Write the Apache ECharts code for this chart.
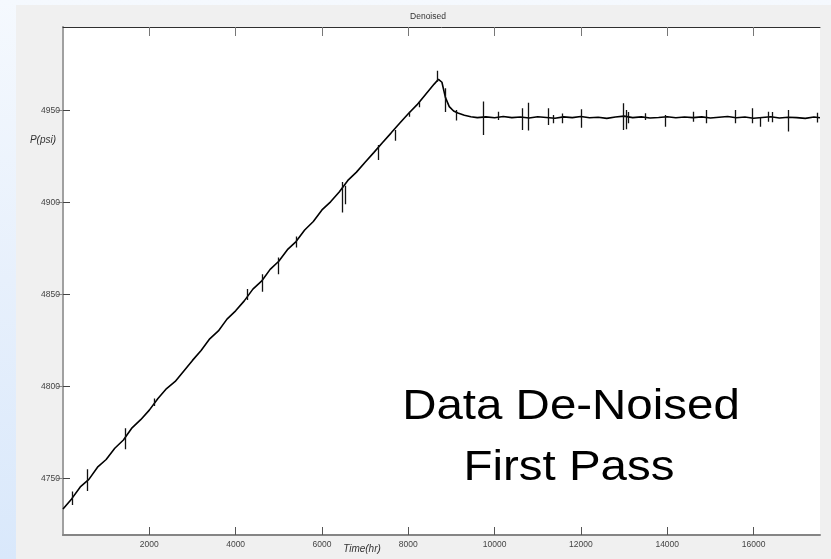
<!DOCTYPE html>
<html><head><meta charset="utf-8">
<script src="https://cdn.jsdelivr.net/npm/echarts@6/dist/echarts.min.js"></script>
<style>
html,body{margin:0;padding:0;width:831px;height:559px;overflow:hidden;
  background:linear-gradient(to bottom,#f5f9fe 0%,#e7f0fc 50%,#d9e8fb 100%);}
#panel{position:absolute;left:16px;top:5px;width:815px;height:554px;background:#f0f0f0;}
#chart{position:absolute;left:0;top:0;width:831px;height:559px;}
</style></head><body><div id="panel"></div><div id="chart"></div>
<script>
// Base trace (time in hr, pressure in psi)
const times = [0,200,400,600,800,1000,1200,1400,1600,1800,2000,2200,2400,2600,2800,3000,3200,3400,3600,3800,
  4000,4200,4400,4600,4800,5000,5200,5400,5600,5800,6000,6200,6400,6600,6800,7000,7200,7400,7600,7800,
  8000,8200,8400,8600,8700,8780,8860,8950,9050,9150,9300,9450,9600,9800,10000,10200,10400,10600,10800,11000,
  11200,11400,11600,11800,12000,12200,12400,12600,12800,13000,13200,13400,13600,13800,14000,14200,14400,14600,14800,15000,
  15200,15400,15600,15800,16000,16200,16400,16600,16800,17000,17200,17400,17540];
const pressures = [4733.5,4739.0,4745.5,4749.6,4756.2,4760.4,4766.5,4771.0,4777.6,4782.0,4787.2,4793.5,4798.9,4802.8,4808.5,4814.2,4819.6,4825.9,4830.2,4836.6,
  4841.1,4846.5,4852.9,4857.2,4863.6,4868.0,4874.3,4878.7,4885.0,4889.6,4895.9,4900.3,4905.6,4911.9,4916.4,4921.8,4927.0,4932.4,4937.6,4942.9,
  4948.1,4952.9,4958.6,4964.2,4966.8,4965.2,4957.0,4952.0,4949.6,4948.5,4947.3,4946.5,4946.0,4946.4,4945.9,4946.6,4946.0,4946.3,4945.8,4946.5,
  4946.1,4945.7,4946.4,4946.0,4946.6,4945.9,4946.2,4945.6,4946.3,4946.8,4946.0,4946.4,4945.8,4946.1,4946.5,4945.9,4946.3,4946.0,4946.4,4945.8,
  4946.2,4946.6,4945.9,4946.3,4945.7,4946.1,4946.5,4945.8,4946.2,4946.0,4945.6,4946.3,4945.9];
// Spikes (vertical glitches)
const spikeTimes = [225,572,1437,2109,4260,4610,4980,5400,6480,6540,7307,7694,8026,8258,8675,8853,9123,9727,10089,10645,
  10769,11247,11363,11563,12010,12985,13048,13095,13488,13951,14608,14902,15574,15960,16153,16338,16425,16811,17480];
const spikeHigh = [4743.0,4755.1,4777.4,4793.5,4853.0,4861.0,4870.0,4881.5,4911.0,4909.0,4931.2,4939.3,4949.2,4954.7,4971.5,4962.0,4950.2,4954.7,4949.2,4951.1,
  4954.1,4951.1,4947.4,4948.2,4950.5,4953.8,4950.2,4949.0,4948.4,4947.4,4949.2,4950.2,4950.2,4951.1,4946.2,4949.2,4949.0,4950.2,4948.6];
const spikeLow = [4735.7,4743.3,4766.0,4789.4,4847.0,4851.5,4861.0,4875.5,4894.5,4899.0,4923.0,4933.5,4946.5,4951.6,4965.5,4949.0,4944.4,4936.6,4944.7,4939.3,
  4939.0,4942.0,4943.0,4943.0,4940.5,4939.3,4939.7,4943.0,4944.7,4941.1,4943.8,4942.9,4942.9,4942.9,4941.1,4943.8,4943.5,4938.4,4943.4];
const xTickValues = [2000,4000,6000,8000,10000,12000,14000,16000];
const yTickValues = [4750,4800,4850,4900,4950];
const xRange = [0,17540];
const yRange = [4719.4,4995.2];

const lineData = times.map((t,i)=>[t,pressures[i]]);
const spikeData = spikeTimes.map((t,i)=>({coords:[[t,spikeHigh[i]],[t,spikeLow[i]]]}));

const FONT = '"Liberation Sans", Arial, sans-serif';
const plain = v => String(v);
const chart = echarts.init(document.getElementById('chart'), null, {renderer:'canvas'});
const xAx = (pos, opts) => Object.assign({
  type:'value', position:pos, min:xRange[0], max:xRange[1], splitLine:{show:false}
}, opts);
const yAx = (pos, opts) => Object.assign({
  type:'value', position:pos, min:yRange[0], max:yRange[1], splitLine:{show:false}
}, opts);
chart.setOption({
  animation:false,
  backgroundColor:'transparent',
  grid:{left:63, top:27, right:11, bottom:24, show:true, backgroundColor:'#ffffff', borderWidth:0, containLabel:false},
  xAxis:[
    xAx('bottom', {axisLine:{show:true, lineStyle:{color:'#858585', width:2}},
      axisTick:{show:true, inside:true, length:8, customValues:xTickValues, lineStyle:{color:'#555', width:1}},
      axisLabel:{show:true, customValues:xTickValues, formatter:plain, fontSize:8.5, color:'#444', margin:5, fontFamily:FONT}}),
    xAx('top', {axisLine:{show:true, lineStyle:{color:'#2f2f2f', width:1}},
      axisTick:{show:true, inside:true, length:9, customValues:xTickValues, lineStyle:{color:'#777', width:1}},
      axisLabel:{show:false}})
  ],
  yAxis:[
    yAx('left', {axisLine:{show:true, lineStyle:{color:'#a0a0a0', width:2}},
      axisTick:{show:true, inside:true, length:7, customValues:yTickValues, lineStyle:{color:'#444', width:1}},
      axisLabel:{show:true, customValues:yTickValues, formatter:plain, fontSize:8.5, color:'#444', margin:3, fontFamily:FONT}}),
    yAx('right', {axisLine:{show:true, lineStyle:{color:'#a0a0a0', width:2}},
      axisTick:{show:true, inside:true, length:6, customValues:yTickValues, lineStyle:{color:'#888', width:1}},
      axisLabel:{show:false}})
  ],
  series:[
    {type:'line', xAxisIndex:0, yAxisIndex:0, data:lineData, showSymbol:false, symbol:'none',
      lineStyle:{color:'#000', width:1.6}, z:3},
    {type:'lines', coordinateSystem:'cartesian2d', xAxisIndex:0, yAxisIndex:0, data:spikeData,
      lineStyle:{color:'#111', width:1.3, opacity:1}, z:4}
  ],
  graphic:[
    {type:'text', x:428, y:16.5, style:{text:'Denoised', fontSize:8.5, fontFamily:FONT, fill:'#333',
      align:'center', verticalAlign:'middle', textAlign:'center', textVerticalAlign:'middle'}},
    {type:'text', x:43, y:140.5, style:{text:'P(psi)', fontSize:10, fontStyle:'italic', fontFamily:FONT, fill:'#333',
      align:'center', verticalAlign:'middle', textAlign:'center', textVerticalAlign:'middle'}},
    {type:'text', x:362, y:549, style:{text:'Time(hr)', fontSize:10, fontStyle:'italic', fontFamily:FONT, fill:'#333',
      align:'center', verticalAlign:'middle', textAlign:'center', textVerticalAlign:'middle'}},
    {type:'text', x:571, y:407, scaleX:1.13, z:100, style:{text:'Data De-Noised', fontSize:42, fontFamily:FONT, fill:'#000',
      align:'center', verticalAlign:'middle', textAlign:'center', textVerticalAlign:'middle'}},
    {type:'text', x:569, y:468, scaleX:1.13, z:100, style:{text:'First Pass', fontSize:42, fontFamily:FONT, fill:'#000',
      align:'center', verticalAlign:'middle', textAlign:'center', textVerticalAlign:'middle'}}
  ]
});
</script></body></html>
